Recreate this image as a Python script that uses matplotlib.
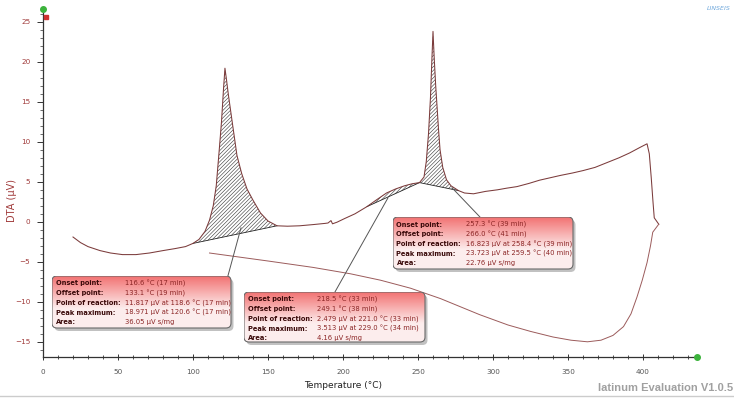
import numpy as np
import matplotlib
matplotlib.use("Agg")
import matplotlib.pyplot as plt
from matplotlib.patches import FancyBboxPatch
from matplotlib.lines import Line2D
from matplotlib.ticker import MultipleLocator

plt.rcParams['font.family'] = ['DejaVu Sans']
plt.rcParams['hatch.linewidth'] = 0.4

# ---------------- data ----------------
heat_T = [20, 25, 30, 38, 45, 53, 62, 71, 80, 88, 95, 100, 104, 108, 111, 113.5, 115.5,
          117.5, 119, 120.3, 121.3, 122.3, 123.5, 124.7, 126.5, 129.3, 132.5, 136, 140,
          145, 150, 156, 163, 171, 180, 188, 190, 192, 193, 196, 201, 208, 216, 222, 229,
          235, 241, 246, 251, 254, 255.5, 257, 258.3, 259.3, 260, 260.8, 261.8, 262.7,
          263.7, 264.7, 266.5, 269, 272, 277, 281, 287, 295, 303, 309, 316, 324, 331, 338,
          345, 353, 360, 368, 376, 384, 391, 398, 402.7, 404.2, 405.5, 406.7, 407.5, 410.5]
heat_D = [-1.9, -2.6, -3.1, -3.6, -3.9, -4.1, -4.1, -3.9, -3.6, -3.35, -3.1, -2.7, -2.2,
          -1.2, 0.2, 2.0, 4.5, 9.0, 12.5, 16.5, 19.2, 17.8, 16.0, 14.4, 12.0, 8.3, 6.0, 4.1,
          2.7, 1.1, 0.1, -0.5, -0.55, -0.5, -0.35, -0.2, -0.15, 0.15, -0.25, -0.05, 0.4,
          1.0, 1.9, 2.7, 3.6, 4.1, 4.5, 4.75, 4.9, 5.6, 7.5, 11.0, 15.5, 20.5, 23.8, 20.5,
          17.0, 14.4, 11.5, 9.0, 6.8, 5.25, 4.5, 3.9, 3.6, 3.5, 3.8, 4.0, 4.2, 4.4, 4.8,
          5.2, 5.5, 5.8, 6.1, 6.4, 6.8, 7.4, 8.0, 8.6, 9.3, 9.75, 8.5, 5.5, 2.4, 0.5, -0.3]

cool_T = [410.5, 406.5, 405, 402.7, 399.5, 396, 392, 387, 380, 372, 363, 352, 340, 325,
          310, 291, 265, 245, 225, 205, 180, 150, 111]
cool_D = [-0.3, -1.3, -3.0, -5.1, -7.3, -9.4, -11.5, -13.1, -14.2, -14.8, -15.0, -14.8,
          -14.4, -13.7, -12.9, -11.6, -9.6, -8.3, -7.3, -6.5, -5.7, -4.9, -3.9]

# evaluated peak regions (start/end temperature of the integration baseline)
peak_ranges = [(100, 156), (216, 251), (251, 277)]

box_labels = ["Onset point:", "Offset point:", "Point of reaction:", "Peak maximum:", "Area:"]
box1_values = ["116.6 \u00b0C (17 min)", "133.1 \u00b0C (19 min)",
               "11.817 \u00b5V at 118.6 \u00b0C (17 min)", "18.971 \u00b5V at 120.6 \u00b0C (17 min)",
               "36.05 \u00b5V s/mg"]
box2_values = ["218.5 \u00b0C (33 min)", "249.1 \u00b0C (38 min)",
               "2.479 \u00b5V at 221.0 \u00b0C (33 min)", "3.513 \u00b5V at 229.0 \u00b0C (34 min)",
               "4.16 \u00b5V s/mg"]
box3_values = ["257.3 \u00b0C (39 min)", "266.0 \u00b0C (41 min)",
               "16.823 \u00b5V at 258.4 \u00b0C (39 min)", "23.723 \u00b5V at 259.5 \u00b0C (40 min)",
               "22.76 \u00b5V s/mg"]

x_ticks = [0, 50, 100, 150, 200, 250, 300, 350, 400]
y_ticks = [-15, -10, -5, 0, 5, 10, 15, 20, 25]

# ---------------- figure ----------------
W, H = 734, 400
fig = plt.figure(figsize=(W / 100, H / 100), dpi=100)
fig.patch.set_facecolor('white')
ax = fig.add_axes([43 / W, (H - 357) / H, (697 - 43) / W, (357 - 9) / H])
ax.set_xlim(0, 436)
ax.set_ylim(-16.9, 26.6)

for s in ['top', 'right']:
    ax.spines[s].set_visible(False)
for s in ['left', 'bottom']:
    ax.spines[s].set_color('#333333')
    ax.spines[s].set_linewidth(0.9)

ax.set_xticks(x_ticks)
ax.set_yticks(y_ticks)
ax.xaxis.set_minor_locator(MultipleLocator(10))
ax.yaxis.set_minor_locator(MultipleLocator(1))
ax.tick_params(axis='x', which='major', direction='inout', length=5, width=0.7,
               colors='#333333', labelsize=5.2, labelcolor='#555555', pad=6)
ax.tick_params(axis='x', which='minor', direction='inout', length=3, width=0.6, colors='#333333')
ax.tick_params(axis='y', which='major', direction='out', length=4, width=0.7,
               colors='#333333', labelsize=5.2, labelcolor='#a03a3a', pad=5)
ax.tick_params(axis='y', which='minor', direction='out', length=2, width=0.5, colors='#333333')

hT = np.array(heat_T)
hD = np.array(heat_D)

# hatched peak areas
for (t0, t1) in peak_ranges:
    m = (hT >= t0) & (hT <= t1)
    tt = hT[m]
    dd = hD[m]
    base = dd[0] + (dd[-1] - dd[0]) * (tt - tt[0]) / (tt[-1] - tt[0])
    ax.fill_between(tt, base, dd, facecolor='none', edgecolor='#333333', hatch='/' * 9,
                    linewidth=0)
    ax.plot([tt[0], tt[-1]], [dd[0], dd[-1]], color='#222222', lw=0.6)

ax.plot(heat_T, heat_D, color='#7b3b3b', lw=0.75)
ax.plot(cool_T, cool_D, color='#9b5b5b', lw=0.7)

# leader lines from boxes to evaluated areas
ax.plot([123.3, 132.0], [-6.75, -0.75], color='#555555', lw=0.7)
ax.plot([194.7, 230.0], [-8.75, 3.0], color='#555555', lw=0.7)
ax.plot([291.3, 272.7], [0.6, 4.25], color='#555555', lw=0.7)

# axis end markers
ax.plot([0], [26.6], 'o', color='#3cb33c', ms=4, clip_on=False, zorder=6)
ax.plot([436], [-16.9], 'o', color='#3cb33c', ms=4, clip_on=False, zorder=6)
ax.plot([2], [25.6], 's', color='#d03030', ms=2.2, clip_on=False, zorder=6)

# axis titles
fig.text(12 / W, 1 - 200 / H, "DTA (\u00b5V)", rotation=90, ha='center', va='center',
         fontsize=7, color='#a03a3a')
fig.text(343 / W, 1 - 386 / H, "Temperature (\u00b0C)", ha='center', va='center',
         fontsize=6.5, color='#222222')

# --------- annotation boxes ---------
grad = np.linspace(0, 1, 64).reshape(-1, 1)
top_c = np.array([0.95, 0.45, 0.45])
bot_c = np.array([0.99, 0.93, 0.93])
mid = np.clip(grad * 1.6, 0, 1)
img = top_c[None, None, :] * (1 - mid[:, :, None]) + bot_c[None, None, :] * mid[:, :, None]


def draw_box(x0, y0, w, h, labels, values):
    m = 3
    bax = fig.add_axes([x0 / W, (H - (y0 + h + m)) / H, (w + m) / W, (h + m) / H], zorder=5)
    bax.set_xlim(0, w + m)
    bax.set_ylim(0, h + m)
    bax.set_axis_off()
    bax.patch.set_alpha(0)
    shadow = FancyBboxPatch((2.5, 0), w, h, boxstyle='round,pad=0,rounding_size=5',
                            facecolor='#777777', alpha=0.45, edgecolor='none')
    bax.add_patch(shadow)
    clip = FancyBboxPatch((0, m), w, h, boxstyle='round,pad=0,rounding_size=5',
                          facecolor='none', edgecolor='none')
    bax.add_patch(clip)
    im = bax.imshow(img, extent=(0, w, m, h + m), aspect='auto', origin='upper', zorder=1)
    im.set_clip_path(clip)
    edge = FancyBboxPatch((0, m), w, h, boxstyle='round,pad=0,rounding_size=5',
                          facecolor='none', edgecolor='#6a6a6a', lw=0.8, zorder=2)
    bax.add_patch(edge)
    for i, (lab, val) in enumerate(zip(labels, values)):
        yy = h + m - 7.5 - i * 9.7
        bax.text(3.5, yy, lab, fontsize=4.8, fontweight='bold', color='#3a0a0a',
                 va='center', ha='left', zorder=3)
        bax.text(73, yy, val, fontsize=4.9, color='#8b2525', va='center', ha='left', zorder=3)


draw_box(52, 276, 179, 52, box_labels, box1_values)
draw_box(244, 292, 181, 50, box_labels, box2_values)
draw_box(393, 217, 180, 52, box_labels, box3_values)

# decorations
fig.text(731 / W, 1 - 8 / H, "LINSEIS", ha='right', va='center', fontsize=4.5,
         style='italic', color='#6fa8dc')
fig.add_artist(Line2D([0, 1], [4 / H, 4 / H], transform=fig.transFigure, color='#cccccc', lw=1))
fig.text(733 / W, 1 - 388 / H, "latinum Evaluation V1.0.5", ha='right', va='center',
         fontsize=8, fontweight='bold', color='#a0a0a0', family='Liberation Sans')

fig.savefig("out.png", dpi=100, facecolor='white')
